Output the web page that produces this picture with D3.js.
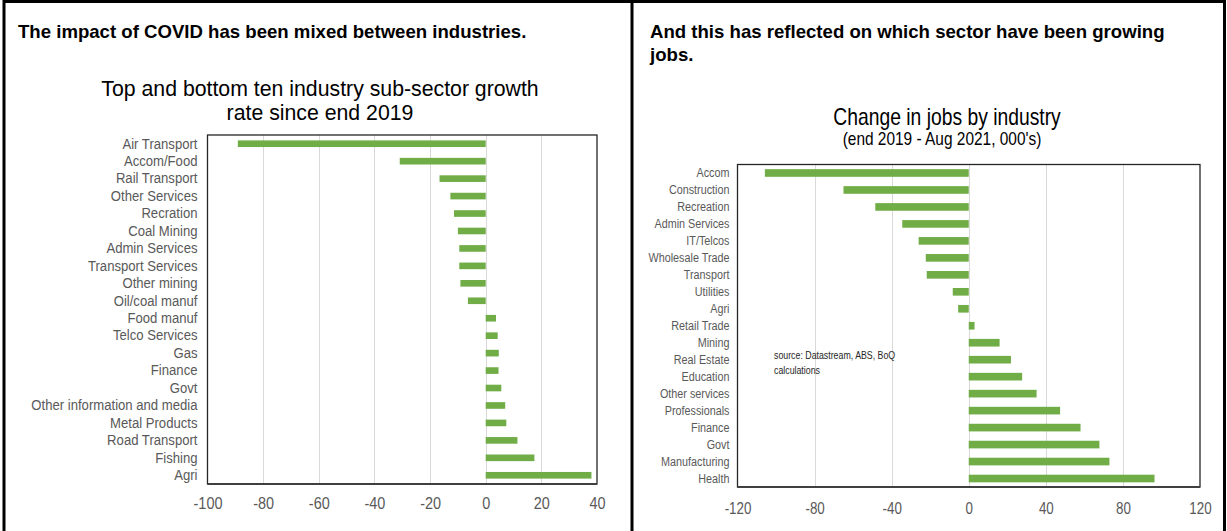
<!DOCTYPE html>
<html><head><meta charset="utf-8">
<script src="https://cdn.jsdelivr.net/npm/d3@7"></script>
<style>body{margin:0;background:#fff}svg{display:block}</style>
</head><body>
<svg id="c" width="1227" height="531"></svg>
<script>
// ---- data ----
const leftCategories = ["Air Transport","Accom/Food","Rail Transport","Other Services","Recration","Coal Mining","Admin Services","Transport Services","Other mining","Oil/coal manuf","Food manuf","Telco Services","Gas","Finance","Govt","Other information and media","Metal Products","Road Transport","Fishing","Agri"];
const leftValues = [-89.1,-30.9,-16.6,-12.7,-11.4,-10.0,-9.5,-9.5,-9.1,-6.4,3.7,4.3,4.7,4.6,5.6,7.0,7.4,11.4,17.5,38.0];
const leftTicks = [-100,-80,-60,-40,-20,0,20,40];

const rightCategories = ["Accom","Construction","Recreation","Admin Services","IT/Telcos","Wholesale Trade","Transport","Utilities","Agri","Retail Trade","Mining","Real Estate","Education","Other services","Professionals","Finance","Govt","Manufacturing","Health"];
const rightValues = [-105.8,-65.0,-48.5,-34.5,-26.0,-22.3,-21.8,-8.3,-5.5,3.0,16.0,21.9,27.7,35.2,47.4,58.0,67.8,73.0,96.4];
const rightTicks = [-120,-80,-40,0,40,80,120];

const leftHeader = "The impact of COVID has been mixed between industries.";
const rightHeader = ["And this has reflected on which sector have been growing", "jobs."];
const leftTitle = ["Top and bottom ten industry sub-sector growth", "rate since end 2019"];
const rightTitle = "Change in jobs by industry";
const rightSubtitle = "(end 2019 - Aug 2021, 000's)";
const sourceNote = ["source:  Datastream, ABS, BoQ", "calculations"];

// ---- drawing ----
const SANS = "'Liberation Sans',Arial,sans-serif";
const svg = d3.select("#c");
svg.append("rect").attr("width",1227).attr("height",531).attr("fill","#fff");

// horizontally condense texts (narrow-font look) keeping their anchor point
function squeeze(sel, sx){
  sel.each(function(){
    const t = d3.select(this);
    const x = +t.attr("x") || 0, y = +t.attr("y") || 0;
    t.attr("x",0).attr("y",0).attr("transform",`translate(${x},${y}) scale(${sx},1)`);
  });
}

// outer frame
const frame = svg.append("g").attr("stroke","#000").attr("stroke-width",3);
frame.append("line").attr("x1",3).attr("x2",1226).attr("y1",1.5).attr("y2",1.5);
frame.append("line").attr("x1",4).attr("x2",4).attr("y1",0).attr("y2",531);
frame.append("line").attr("x1",632).attr("x2",632).attr("y1",0).attr("y2",531);
frame.append("line").attr("x1",1224.5).attr("x2",1224.5).attr("y1",0).attr("y2",531);

// headers
svg.append("text").attr("x",18).attr("y",38).text(leftHeader)
  .attr("font-family",SANS).attr("font-weight","bold")
  .attr("font-size",18.6).attr("fill","#000");
svg.append("g").selectAll("text").data(rightHeader).join("text")
  .attr("x",650).attr("y",(d,i)=>38+i*23).text(d=>d)
  .attr("font-family",SANS).attr("font-weight","bold")
  .attr("font-size",18.6).attr("fill","#000");

function drawChart(cfg){
  const g = svg.append("g");
  const x = d3.scaleLinear().domain(cfg.domain).range([cfg.left,cfg.right]);
  const y = d3.scaleBand().domain(cfg.cats).range([cfg.top,cfg.bottom])
    .paddingInner(cfg.pad).paddingOuter(cfg.pad/2);

  // gridlines
  g.append("g").selectAll("line").data(cfg.ticks.filter(t=>t>cfg.domain[0] && t<cfg.domain[1])).join("line")
    .attr("x1",d=>Math.round(x(d))+0.5).attr("x2",d=>Math.round(x(d))+0.5)
    .attr("y1",cfg.top).attr("y2",cfg.bottom)
    .attr("stroke","#d9d9d9").attr("stroke-width",1);

  // bars
  g.append("g").selectAll("rect").data(cfg.vals).join("rect")
    .attr("x",(d)=>x(Math.min(0,d)))
    .attr("width",d=>Math.abs(x(d)-x(0)))
    .attr("y",(d,i)=>y(cfg.cats[i]))
    .attr("height",y.bandwidth())
    .attr("fill","#70ad47");

  // box
  g.append("rect").attr("x",cfg.left).attr("y",cfg.top)
    .attr("width",cfg.right-cfg.left).attr("height",cfg.bottom-cfg.top)
    .attr("fill","none").attr("stroke","#262626").attr("stroke-width",1.3);
  g.append("line").attr("x1",cfg.left).attr("x2",cfg.right)
    .attr("y1",cfg.bottom).attr("y2",cfg.bottom)
    .attr("stroke","#404040").attr("stroke-width",2.2);

  // y axis
  const ya = g.append("g").attr("transform",`translate(${cfg.left},0)`)
    .call(d3.axisLeft(y).tickSize(0).tickPadding(cfg.labelPad));
  ya.select(".domain").remove();
  ya.selectAll("text").attr("font-family",SANS).attr("font-size",cfg.labelSize)
    .attr("fill","#595959");
  squeeze(ya.selectAll("text"), cfg.labelSx);

  // x axis
  const xa = g.append("g").attr("transform",`translate(0,${cfg.bottom})`)
    .call(d3.axisBottom(x).tickValues(cfg.ticks).tickSize(0).tickPadding(cfg.tickPad).tickFormat(d3.format("d")));
  xa.select(".domain").remove();
  xa.selectAll("text").attr("font-family",SANS).attr("font-size",cfg.tickSize)
    .attr("fill","#595959").text(d=>String(d));
  squeeze(xa.selectAll("text"), cfg.tickSx);
  return g;
}

drawChart({left:207.5,right:597,top:135,bottom:484,domain:[-100,40],
  cats:leftCategories,vals:leftValues,ticks:leftTicks,pad:0.62,
  labelPad:10,labelSize:15,labelSx:0.875,tickPad:13,tickSize:17,tickSx:0.85});

drawChart({left:737.5,right:1200,top:164.5,bottom:487,domain:[-120,120],
  cats:rightCategories,vals:rightValues,ticks:rightTicks,pad:0.55,
  labelPad:8,labelSize:13.5,labelSx:0.8,tickPad:15,tickSize:16.5,tickSx:0.81});

// titles
const lt = svg.append("g").selectAll("text").data(leftTitle).join("text")
  .attr("x",320).attr("y",(d,i)=>96+i*24.2).attr("text-anchor","middle").text(d=>d)
  .attr("font-family",SANS).attr("font-size",21.5).attr("fill","#000");
squeeze(lt, 0.99);
const rt = svg.append("text").attr("x",947).attr("y",125).attr("text-anchor","middle").text(rightTitle)
  .attr("font-family",SANS).attr("font-size",23).attr("fill","#000");
squeeze(rt, 0.84);
const rs = svg.append("text").attr("x",942).attr("y",145).attr("text-anchor","middle").text(rightSubtitle)
  .attr("font-family",SANS).attr("font-size",18.5).attr("fill","#000");
squeeze(rs, 0.835);

// source note
const sn = svg.append("g").selectAll("text").data(sourceNote).join("text")
  .attr("x",774).attr("y",(d,i)=>359+i*15).text(d=>d)
  .attr("font-family",SANS).attr("font-size",11).attr("fill","#262626");
squeeze(sn, 0.8);
</script>
</body></html>
